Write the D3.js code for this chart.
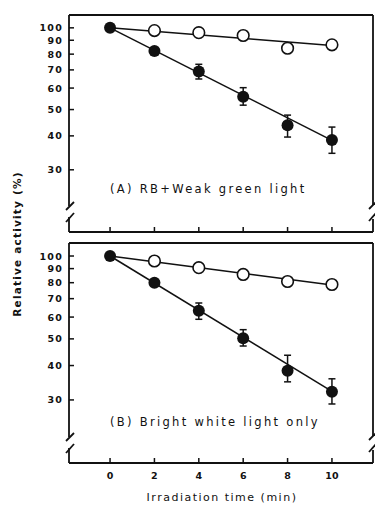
<!DOCTYPE html>
<html>
<head>
<meta charset="utf-8">
<script src="https://cdn.jsdelivr.net/npm/d3@7"></script>
<style>
  body { margin: 0; background: #fff; }
  svg { display: block; }
  text { font-family: "DejaVu Sans", sans-serif; fill: #111; }
</style>
</head>
<body>
<div id="chart"></div>
<script>
// 数据
const times = [0, 2, 4, 6, 8, 10];
const xTicks = [0, 2, 4, 6, 8, 10];
const yTicks = [100, 90, 80, 70, 60, 50, 40, 30];

// (A) RB+Weak green light
const openA = [100, 97.7, 96.0, 93.7, 84.1, 86.6];
const filledA = [100, 82.2, 69.0, 55.7, 43.8, 38.6];
const errLowA = [null, null, 64.8, 51.9, 39.6, 34.5];
const errHighA = [null, null, 73.4, 60.2, 47.7, 43.1];
const fitOpenA = [100, 86.0];
const fitFilledA = [100, 38.5];

// (B) Bright white light only
const openB = [100, 95.9, 90.7, 85.7, 80.8, 78.8];
const filledB = [100, 79.9, 63.2, 50.3, 38.3, 32.1];
const errLowB = [null, null, 58.9, 47.1, 34.9, 29.0];
const errHighB = [null, null, 67.5, 54.0, 43.6, 35.8];
const fitOpenB = [100, 78.5];
const fitFilledB = [100, 32.2];

const labels = ["(A) RB+Weak green light", "(B) Bright white light only"];

const W = 375, H = 506;
const svg = d3.select("#chart").append("svg")
  .attr("width", W).attr("height", H);

const x = d3.scaleLinear().domain([-1.85, 11.85]).range([69, 373]);

const panels = [
  { top: 15, bottom: 232, open: openA, filled: filledA, lo: errLowA, hi: errHighA,
    fitO: fitOpenA, fitF: fitFilledA, label: labels[0] },
  { top: 243, bottom: 463, open: openB, filled: filledB, lo: errLowB, hi: errHighB,
    fitO: fitOpenB, fitF: fitFilledB, label: labels[1] }
];

panels.forEach(function (p, i) {
  const y = d3.scaleLog().domain([17.7, 111.5]).range([p.bottom, p.top]);
  const g = svg.append("g");
  const L = x.range()[0], R = x.range()[1];
  const b = p.bottom;

  // 边框 (带断轴)
  const frame = [
    [[L, p.top], [R, p.top]],
    [[L, b], [R, b]],
    [[L, p.top], [L, b - 26]],
    [[L, b - 15], [L, b]],
    [[R, p.top], [R, b - 27]],
    [[R, b - 13], [R, b]]
  ];
  const slashes = [
    [[L - 3, b - 22], [L + 5, b - 30]],
    [[L - 3, b - 10], [L + 5, b - 19]],
    [[R - 4, b - 23], [R + 3, b - 30]],
    [[R - 4, b - 11], [R + 3, b - 19]]
  ];
  g.selectAll(".frame").data(frame.concat(slashes)).join("path")
    .attr("d", d => d3.line()(d))
    .attr("stroke", "#111").attr("stroke-width", 1.8).attr("fill", "none");

  // y 轴刻度 (向内)
  g.selectAll(".yt").data(yTicks).join("line")
    .attr("x1", L).attr("x2", L + 5)
    .attr("y1", d => y(d)).attr("y2", d => y(d))
    .attr("stroke", "#111").attr("stroke-width", 1.5);
  g.selectAll(".yl").data(yTicks).join("text")
    .attr("x", L - 6).attr("y", d => y(d) + 3.5)
    .attr("text-anchor", "end")
    .attr("font-size", 9.5).attr("font-weight", "bold")
    .attr("letter-spacing", 1.2)
    .text(d => d);

  // x 轴刻度 (向内)
  g.selectAll(".xt").data(xTicks).join("line")
    .attr("x1", d => x(d)).attr("x2", d => x(d))
    .attr("y1", b).attr("y2", b - 5)
    .attr("stroke", "#111").attr("stroke-width", 1.5);

  // 拟合直线
  [p.fitO, p.fitF].forEach(function (f) {
    g.append("line")
      .attr("x1", x(times[0])).attr("y1", y(f[0]))
      .attr("x2", x(times[times.length - 1])).attr("y2", y(f[1]))
      .attr("stroke", "#111").attr("stroke-width", 1.5);
  });

  // 误差线
  const errs = times.map((t, k) => ({ t: t, lo: p.lo[k], hi: p.hi[k] })).filter(d => d.lo != null);
  g.selectAll(".err").data(errs).join("line")
    .attr("x1", d => x(d.t)).attr("x2", d => x(d.t))
    .attr("y1", d => y(d.lo)).attr("y2", d => y(d.hi))
    .attr("stroke", "#111").attr("stroke-width", 1.5);
  g.selectAll(".capH").data(errs).join("line")
    .attr("x1", d => x(d.t) - 3.5).attr("x2", d => x(d.t) + 3.5)
    .attr("y1", d => y(d.hi)).attr("y2", d => y(d.hi))
    .attr("stroke", "#111").attr("stroke-width", 1.5);
  g.selectAll(".capL").data(errs).join("line")
    .attr("x1", d => x(d.t) - 3.5).attr("x2", d => x(d.t) + 3.5)
    .attr("y1", d => y(d.lo)).attr("y2", d => y(d.lo))
    .attr("stroke", "#111").attr("stroke-width", 1.5);

  // 空心圆
  g.selectAll(".open").data(times.slice(1)).join("circle")
    .attr("cx", d => x(d)).attr("cy", (d, k) => y(p.open[k + 1]))
    .attr("r", 5.8).attr("fill", "#fff").attr("stroke", "#111").attr("stroke-width", 1.6);
  // 实心圆
  g.selectAll(".filled").data(times).join("circle")
    .attr("cx", d => x(d)).attr("cy", (d, k) => y(p.filled[k]))
    .attr("r", 6).attr("fill", "#111");

  // 面板标签
  g.append("text")
    .attr("x", x(0)).attr("y", b - 39 + (i === 1 ? 2 : 0))
    .attr("font-size", 11.5).attr("letter-spacing", 2.3)
    .text(p.label);
});

// x 轴标签
svg.selectAll(".xl").data(xTicks).join("text")
  .attr("x", d => x(d)).attr("y", 479)
  .attr("text-anchor", "middle")
  .attr("font-size", 9.5).attr("font-weight", "bold")
  .text(d => d);

svg.append("text")
  .attr("x", 222).attr("y", 501)
  .attr("text-anchor", "middle")
  .attr("font-size", 11).attr("letter-spacing", 1.5)
  .text("Irradiation time (min)");

svg.append("text")
  .attr("transform", "translate(21,244) rotate(-90)")
  .attr("text-anchor", "middle")
  .attr("font-size", 10.5).attr("font-weight", "bold").attr("letter-spacing", 1.2)
  .text("Relative activity (%)");
</script>
</body>
</html>
